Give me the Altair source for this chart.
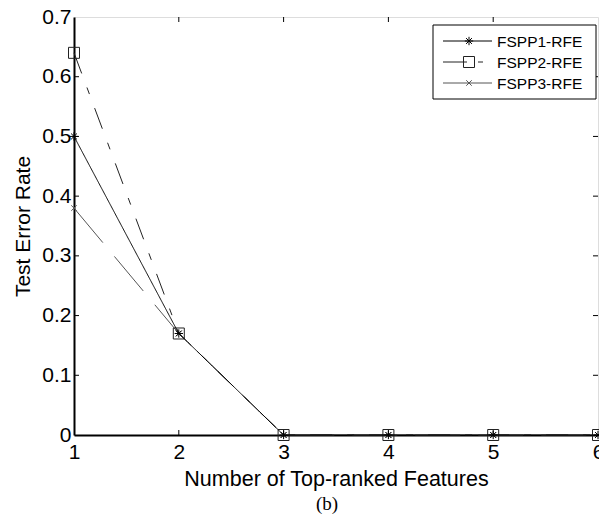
import altair as alt
import pandas as pd

# ---- data ----
features = [1, 2, 3, 4, 5, 6]
series_names = ["FSPP1-RFE", "FSPP2-RFE", "FSPP3-RFE"]
fspp1 = [0.50, 0.17, 0.0, 0.0, 0.0, 0.0]
fspp2 = [0.64, 0.17, 0.0, 0.0, 0.0, 0.0]
fspp3 = [0.38, 0.17, 0.0, 0.0, 0.0, 0.0]
x_ticks = [1, 2, 3, 4, 5, 6]
y_ticks = [0, 0.1, 0.2, 0.3, 0.4, 0.5, 0.6, 0.7]
caption = "(b)"

W, H = 524, 418
FONT = "Liberation Sans"

values = {"FSPP1-RFE": fspp1, "FSPP2-RFE": fspp2, "FSPP3-RFE": fspp3}
rows = []
for s in series_names:
    for xv, yv in zip(features, values[s]):
        rows.append({"x": xv, "y": yv, "series": s})
df = pd.DataFrame(rows)

xs = alt.Scale(domain=[1, 6], nice=False, zero=False)
ys = alt.Scale(domain=[0, 0.7], nice=False)

star = "M-1,0L1,0M0,-1L0,1M-0.7,-0.7L0.7,0.7M-0.7,0.7L0.7,-0.7"
cross = "M-1,-1L1,1M-1,1L1,-1"

style = {
    "FSPP1-RFE": dict(dash=[1, 0], color="#000000", shape=star, size=70, width=1.0,
                      ldash=[1, 0]),
    "FSPP2-RFE": dict(dash=[22, 15, 7, 15], color="#222222", shape="square", size=121, width=1.0,
                      ldash=[24, 11, 5, 20]),
    "FSPP3-RFE": dict(dash=[45, 18], color="#555555", shape=cross, size=30, width=1.0,
                      ldash=[1, 0]),
}

base = alt.Chart(df)
layers = []

# axes (labels only) + main frame
axes = base.mark_point(opacity=0).encode(
    x=alt.X("x:Q", scale=xs,
            axis=alt.Axis(values=x_ticks, format="d", tickSize=0, labelPadding=6,
                          labelFontSize=21, labelFont=FONT, labelColor="black",
                          domainColor="black", domainWidth=2, grid=False,
                          title="Number of Top-ranked Features", titleFont=FONT,
                          titleFontSize=21.5, titleFontWeight="normal", titleColor="black",
                          titleY=50, titleBaseline="alphabetic",
                          labelFlush=False, labelOverlap=False)),
    y=alt.Y("y:Q", scale=ys,
            axis=alt.Axis(values=y_ticks, tickSize=0, labelPadding=3,
                          labelFontSize=21, labelFont=FONT, labelColor="black",
                          domainColor="black", domainWidth=2, grid=False,
                          labelExpr="datum.value == 0 ? '0' : format(datum.value, '.1f')",
                          title="Test Error Rate", titleFont=FONT, titleFontSize=21,
                          titleFontWeight="normal", titleColor="black", titlePadding=8,
                          labelFlush=False, labelOverlap=False)),
)
layers.append(axes)

# inward ticks (matlab style) on all four sides
xt = pd.DataFrame({"x": x_ticks[1:-1]})
yt = pd.DataFrame({"y": y_ticks[1:-1]})
tick_len = 5
layers.append(alt.Chart(xt).mark_rule(color="black", strokeWidth=1).encode(
    x=alt.X("x:Q", scale=xs), y=alt.value(H), y2=alt.value(H - tick_len)))
layers.append(alt.Chart(xt).mark_rule(color="black", strokeWidth=1).encode(
    x=alt.X("x:Q", scale=xs), y=alt.value(0), y2=alt.value(tick_len)))
layers.append(alt.Chart(yt).mark_rule(color="black", strokeWidth=1).encode(
    y=alt.Y("y:Q", scale=ys), x=alt.value(0), x2=alt.value(tick_len)))
layers.append(alt.Chart(yt).mark_rule(color="black", strokeWidth=1).encode(
    y=alt.Y("y:Q", scale=ys), x=alt.value(W), x2=alt.value(W - tick_len)))

# series lines and markers
for s in reversed(series_names):
    st = style[s]
    sub = base.transform_filter(alt.datum.series == s)
    layers.append(sub.mark_line(color=st["color"], strokeWidth=st["width"],
                                strokeDash=st["dash"]).encode(
        x=alt.X("x:Q", scale=xs), y=alt.Y("y:Q", scale=ys)))
    layers.append(sub.mark_point(shape=st["shape"], size=st["size"], filled=False,
                                 color=st["color"], strokeWidth=1, opacity=1).encode(
        x=alt.X("x:Q", scale=xs), y=alt.Y("y:Q", scale=ys)))

# manual matlab-style legend
legend_df = pd.DataFrame({"series": series_names})
LX0, LX1, LY0, LY1 = 359, 522, 8, 82
layers.append(alt.Chart(legend_df).transform_filter(alt.datum.series == series_names[0])
              .mark_rect(fill="white", stroke="black", strokeWidth=1).encode(
    x=alt.value(LX0), x2=alt.value(LX1), y=alt.value(LY0), y2=alt.value(LY1)))
for i, s in enumerate(series_names):
    st = style[s]
    yy = 24 + 21 * i
    one = alt.Chart(legend_df).transform_filter(alt.datum.series == s)
    layers.append(one.mark_rule(color=st["color"], strokeWidth=st["width"],
                                strokeDash=st["ldash"]).encode(
        x=alt.value(369), x2=alt.value(418), y=alt.value(yy)))
    layers.append(one.mark_point(shape=st["shape"], size=st["size"], filled=False,
                                 color=st["color"], strokeWidth=1, opacity=1).encode(
        x=alt.value(395), y=alt.value(yy)))
    layers.append(one.mark_text(align="left", baseline="middle", font=FONT, fontSize=15.5,
                                color="black").encode(
        x=alt.value(423), y=alt.value(yy + 1), text="series:N"))

# caption
cap_df = pd.DataFrame({"t": [caption]})
layers.append(alt.Chart(cap_df).mark_text(font="Liberation Serif", fontSize=19,
                                          color="black", align="center",
                                          baseline="alphabetic").encode(
    x=alt.value(253), y=alt.value(493), text="t:N"))

chart = alt.layer(*layers).properties(
    width=W, height=H,
    autosize=alt.AutoSizeParams(type="none"),
    padding={"left": 66, "top": 9, "right": 1, "bottom": 80},
).configure_view(stroke="black", strokeWidth=1).configure(background="white")

chart.save("out.html", embed_options={"renderer": "svg", "actions": False})
